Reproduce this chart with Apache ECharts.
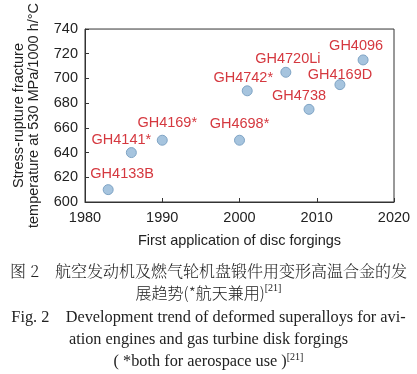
<!DOCTYPE html>
<html><head><meta charset="utf-8">
<script src="https://cdn.jsdelivr.net/npm/echarts@6/dist/echarts.min.js"></script>
<style>html,body{margin:0;padding:0;background:#fff;}#c{width:417px;height:374px;}</style>
</head><body><div id="c"></div>
<script>
var alloys = ['GH4133B','GH4141*','GH4169*','GH4698*','GH4742*','GH4720Li','GH4738','GH4169D','GH4096'];
var years = [1983, 1986, 1990, 2000, 2001, 2006, 2009, 2013, 2016];
var temps = [610, 640, 650, 650, 690, 705, 675, 695, 715];
var xTicks = [1980, 1990, 2000, 2010, 2020];
var yTicks = [600, 620, 640, 660, 680, 700, 720, 740];

// label placement (style, not data)
var labelOffsets = {
  'GH4133B':[14,-16], 'GH4141*':[-10,-13], 'GH4169*':[5,-17], 'GH4698*':[0,-16],
  'GH4742*':[-4,-13], 'GH4720Li':[2,-13], 'GH4738':[-10,-13], 'GH4169D':[0,-10], 'GH4096':[-7,-14]
};

var data = alloys.map(function(n,i){
  return {name:n, value:[years[i], temps[i]],
    label:{show:true, formatter:n, position:'inside', offset:labelOffsets[n]}};
});

var chart = echarts.init(document.getElementById('c'), null, {renderer:'canvas'});
var txt = '#222';
var fs = 14.5;
chart.setOption({
  animation:false,
  grid:{left:85, top:28, width:309, height:174, show:true, borderColor:'#333', borderWidth:1, backgroundColor:'transparent'},
  xAxis:{type:'value', min:xTicks[0], max:xTicks[xTicks.length-1], interval:10,
    name:'First application of disc forgings', nameLocation:'middle', nameGap:31,
    nameTextStyle:{fontFamily:'Liberation Sans', fontSize:fs, color:txt},
    axisLine:{lineStyle:{color:'#333'}}, axisTick:{inside:true, length:4, lineStyle:{color:'#333'}},
    axisLabel:{fontFamily:'Liberation Sans', fontSize:fs, color:txt, margin:8, formatter:function(v){return xTicks.indexOf(v)>=0?String(v):'';}},
    splitLine:{show:false}},
  yAxis:{type:'value', min:yTicks[0], max:yTicks[yTicks.length-1], interval:20,
    name:'Stress-rupture fracture\ntemperature at 530 MPa/1000 h/°C', nameLocation:'middle', nameGap:44, nameRotate:90,
    nameTextStyle:{fontFamily:'Liberation Sans', fontSize:fs, color:txt, lineHeight:15},
    axisLine:{lineStyle:{color:'#333'}}, axisTick:{inside:true, length:4, lineStyle:{color:'#333'}},
    axisLabel:{fontFamily:'Liberation Sans', fontSize:fs, color:txt, margin:7},
    splitLine:{show:false}},
  series:[{type:'scatter', data:data, symbolSize:10,
    itemStyle:{color:'#a6c4de', borderColor:'#7ea3c4', borderWidth:1, opacity:1},
    label:{color:'#d5383f', fontFamily:'Liberation Sans', fontSize:fs}}],
  graphic:[
    {type:'text', left:'center', top:263, style:{
      text:'{a|图 2}{a|　航空发动机及燃气轮机盘锻件用变形高温合金的发}',
      rich:{a:{fontFamily:'Noto Serif CJK SC, Noto Sans CJK SC', fontSize:16, fill:'#222', fontWeight:300}}}},
    {type:'text', left:'center', top:283, style:{
      text:'{a|展趋势(*航天兼用)}{s|[21]}',
      rich:{a:{fontFamily:'Noto Sans CJK SC', fontSize:16, fill:'#222', fontWeight:300, lineHeight:19}, s:{fontFamily:'Liberation Serif', fontSize:10, fill:'#222', verticalAlign:'top', lineHeight:19}}}},
    {type:'text', left:'center', top:310, style:{
      text:'Fig. 2    Development trend of deformed superalloys for avi-',
      fontFamily:'Liberation Serif', fontSize:16.3, fill:'#222'}},
    {type:'text', left:'center', top:332, style:{
      text:'ation engines and gas turbine disk forgings',
      fontFamily:'Liberation Serif', fontSize:16.3, fill:'#222'}},
    {type:'text', left:'center', top:352, style:{
      text:'{a|( *both for aerospace use )}{s|[21]}',
      rich:{a:{fontFamily:'Liberation Serif', fontSize:16.3, fill:'#222', lineHeight:20}, s:{fontFamily:'Liberation Serif', fontSize:10, fill:'#222', verticalAlign:'top', lineHeight:20}}}}
  ]
});
</script></body></html>
